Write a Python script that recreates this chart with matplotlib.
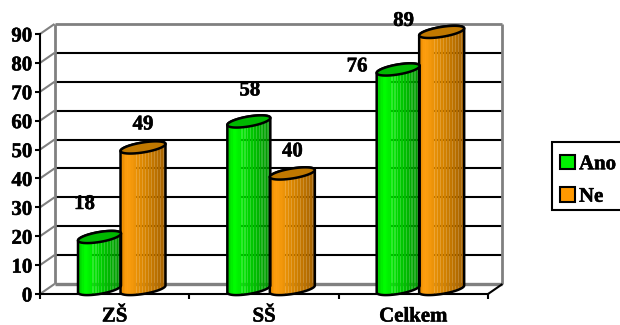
from matplotlib import pyplot as plt
from matplotlib.patches import Polygon, Patch, Rectangle
import matplotlib.patheffects as pe
import numpy as np

plt.rcParams['font.family'] = ['Liberation Serif', 'DejaVu Serif']
plt.rcParams['font.weight'] = 'bold'
plt.rcParams['font.size'] = 15

categories = ['ZŠ', 'SŠ', 'Celkem']
ano = [18, 58, 76]
ne = [49, 40, 89]
y_ticks = [0, 10, 20, 30, 40, 50, 60, 70, 80, 90]

# label offsets from the front top of each bar, in pixels
ano_offsets = [(-15, 38), (1, 36), (-41, 8)]
ne_offsets = [(0, 28), (0, 27), (-38, 16)]

GREEN_STOPS = [(0.0, (0, 205, 0)), (0.15, (0, 255, 0)), (0.55, (0, 205, 0)), (1.0, (0, 145, 0))]
ORANGE_STOPS = [(0.0, (232, 138, 0)), (0.12, (255, 160, 16)), (0.55, (214, 132, 0)), (1.0, (165, 98, 0))]
GREEN_TOP = '#00b800'
ORANGE_TOP = '#c07800'

L, R, T, B = 40, 488, 34, 294  # front box in pixels
W, H = 620, 325
PX = 3 / (R - L)
PY = 90 / (B - T)
DEPTH_X, DEPTH_Y = 14.5, 10
LW = 1.5

fig = plt.figure(figsize=(6.2, 3.25), dpi=100)
ax = fig.add_axes([L / W, 1 - B / H, (R - L) / W, (B - T) / H])
ax.patch.set_visible(False)


def wall_line(x0, y0, x1, y1, color, lw=LW):
    ax.plot([x0, x1], [y0, y1], color=color, lw=lw, clip_on=False, zorder=1,
            solid_capstyle='butt')


def draw_walls():
    dx, dy = DEPTH_X * PX, DEPTH_Y * PY
    for v in y_ticks:
        wall_line(0, v, dx, v + dy, '#808080')
        if 0 < v < 90:
            wall_line(dx, v + dy, 3 + dx, v + dy, 'black')
    wall_line(dx, 90 + dy, 3 + dx, 90 + dy, '#808080', 2)
    wall_line(dx, dy, 3 + dx, dy, '#808080', 2.4)
    wall_line(dx, dy, dx, 90 + dy, '#808080', 2)
    wall_line(3 + dx, dy, 3 + dx, 90 + dy, '#808080', 2)
    wall_line(3, 0, 3 + dx, dy, 'black')


def ramp(stops, n=30):
    pos = [s[0] for s in stops]
    rgb = np.zeros((1, n, 4))
    t = np.linspace(0, 1, n)
    for c in range(3):
        rgb[0, :, c] = np.interp(t, pos, [s[1][c] / 255 for s in stops])
    rgb[0, :, 3] = 1.0
    # faint see-through stripes, as in the original export
    rgb[0, n // 3 :: 2, 3] = 0.82
    return rgb


def cylinder(cx, half_px, value, stops, top_color):
    a = half_px * PX
    tilt = 3.5 * PY
    b = 5 * PY
    top = value + 5 * PY
    base = 5 * PY
    t = np.linspace(0, np.pi, 40)
    # lower half of the base, then upper half of the top
    low_x = cx - a * np.cos(t)
    low_y = base - tilt * np.cos(t) - b * np.sin(t)
    up_x = cx + a * np.cos(t)
    up_y = top + tilt * np.cos(t) + b * np.sin(t)
    body = Polygon(np.column_stack([np.r_[low_x, up_x], np.r_[low_y, up_y]]),
                   closed=True, fc='none', ec='black', lw=LW + 0.3, zorder=4, clip_on=False)
    ax.add_patch(body)
    im = ax.imshow(ramp(stops), extent=(cx - a, cx + a, 0, top + b + tilt), aspect='auto',
                   interpolation='nearest', zorder=3)
    im.set_clip_box(fig.bbox)
    im.set_clip_path(body)
    tt = np.linspace(0, 2 * np.pi, 80)
    cap = np.column_stack([cx + a * np.cos(tt), top + tilt * np.cos(tt) + b * np.sin(tt)])
    ax.add_patch(Polygon(cap, closed=True, fc=top_color, ec='black', lw=LW + 0.3,
                         zorder=5, clip_on=False))


draw_walls()

for i in range(len(categories)):
    x_ano = i + 59.5 / 149.33
    x_ne = i + 103 / 149.33
    cylinder(x_ano, 21.5, ano[i], GREEN_STOPS, GREEN_TOP)
    cylinder(x_ne, 22.5, ne[i], ORANGE_STOPS, ORANGE_TOP)
    for x, v, off in [(x_ano, ano[i], ano_offsets[i]), (x_ne, ne[i], ne_offsets[i])]:
        ax.annotate(str(v), (x, v), xytext=(off[0] * 0.72, off[1] * 0.72),
                    textcoords='offset points', ha='center', va='center',
                    annotation_clip=False, zorder=6)

ax.set_xlim(0, 3)
ax.set_ylim(0, 90)
ax.set_yticks(y_ticks)
ax.set_xticks([0, 1, 2, 3])
ax.set_xticklabels([])
ax.set_xticks([0.5, 1.5, 2.5], minor=True)
ax.set_xticklabels(categories, minor=True)
ax.tick_params(axis='x', which='major', length=3.6, width=LW)
ax.tick_params(axis='x', which='minor', length=0, pad=9)
ax.tick_params(axis='y', length=3.6, width=LW, pad=2)
for side in ['top', 'right']:
    ax.spines[side].set_visible(False)
for side in ['left', 'bottom']:
    ax.spines[side].set_linewidth(LW)
    ax.spines[side].set_zorder(2)

fig.add_artist(Rectangle((552 / W, 1 - 210 / H), 72 / W, 68 / H, transform=fig.transFigure,
                         fc='white', ec='black', lw=LW))
handles = [Patch(fc='#00f000', ec='black', lw=LW, label='Ano'),
           Patch(fc='#ff9900', ec='black', lw=LW, label='Ne')]
leg = fig.legend(handles=handles, loc='upper left', bbox_to_anchor=(554 / W, 1 - 148 / H),
                 frameon=False, handlelength=0.7, handleheight=0.7,
                 handletextpad=0.2, labelspacing=0.6, borderpad=0.3, borderaxespad=0,
                 prop={'family': 'Liberation Serif', 'weight': 'bold', 'size': 15})

# the reference text is a touch heavier than the plain bold face
for txt in ax.texts + ax.get_yticklabels() + ax.get_xticklabels(minor=True) + leg.get_texts():
    txt.set_path_effects([pe.withStroke(linewidth=0.35, foreground='black')])

plt.savefig('out.png', dpi=100)
